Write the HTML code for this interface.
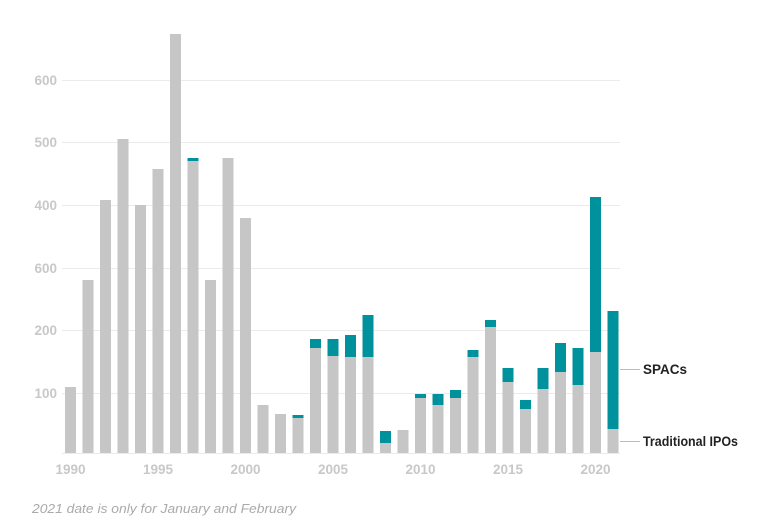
<!DOCTYPE html>
<html><head><meta charset="utf-8"><style>
html,body{margin:0;padding:0;background:#fff;}
svg{display:block;}
</style></head><body>
<svg width="768" height="525" viewBox="0 0 768 525" xmlns="http://www.w3.org/2000/svg" font-family="Liberation Sans, sans-serif">
<g stroke="#ebebeb" stroke-width="1">
<line x1="62" x2="620" y1="80.5" y2="80.5"/>
<line x1="62" x2="620" y1="142.5" y2="142.5"/>
<line x1="62" x2="620" y1="205.5" y2="205.5"/>
<line x1="62" x2="620" y1="268.5" y2="268.5"/>
<line x1="62" x2="620" y1="330.5" y2="330.5"/>
<line x1="62" x2="620" y1="393.5" y2="393.5"/>
<line x1="62" x2="620" y1="453.5" y2="453.5"/>
</g>
<g fill="#c8c8c8" font-size="13.5" font-weight="bold" text-anchor="end">
<text x="57" y="85">600</text>
<text x="57" y="147">500</text>
<text x="57" y="210">400</text>
<text x="57" y="273">600</text>
<text x="57" y="335">200</text>
<text x="57" y="398">100</text>
</g>
<g fill="#c6c6c6">
<rect x="65" y="387" width="11" height="66"/>
<rect x="82.5" y="280" width="11" height="173"/>
<rect x="100" y="200" width="11" height="253"/>
<rect x="117.5" y="139" width="11" height="314"/>
<rect x="135" y="205" width="11" height="248"/>
<rect x="152.5" y="169" width="11" height="284"/>
<rect x="170" y="34" width="11" height="419"/>
<rect x="187.5" y="161" width="11" height="292"/>
<rect x="205" y="280" width="11" height="173"/>
<rect x="222.5" y="158" width="11" height="295"/>
<rect x="240" y="218" width="11" height="235"/>
<rect x="257.5" y="405" width="11" height="48"/>
<rect x="275" y="414" width="11" height="39"/>
<rect x="292.5" y="418" width="11" height="35"/>
<rect x="310" y="348" width="11" height="105"/>
<rect x="327.5" y="356" width="11" height="97"/>
<rect x="345" y="357" width="11" height="96"/>
<rect x="362.5" y="357" width="11" height="96"/>
<rect x="380" y="443" width="11" height="10"/>
<rect x="397.5" y="430" width="11" height="23"/>
<rect x="415" y="398" width="11" height="55"/>
<rect x="432.5" y="405" width="11" height="48"/>
<rect x="450" y="398" width="11" height="55"/>
<rect x="467.5" y="357" width="11" height="96"/>
<rect x="485" y="327" width="11" height="126"/>
<rect x="502.5" y="382" width="11" height="71"/>
<rect x="520" y="409" width="11" height="44"/>
<rect x="537.5" y="389" width="11" height="64"/>
<rect x="555" y="372" width="11" height="81"/>
<rect x="572.5" y="385" width="11" height="68"/>
<rect x="590" y="352" width="11" height="101"/>
<rect x="607.5" y="429" width="11" height="24"/>
</g>
<g fill="#00929c">
<rect x="187.5" y="158" width="11" height="3"/>
<rect x="292.5" y="415" width="11" height="3"/>
<rect x="310" y="339" width="11" height="9"/>
<rect x="327.5" y="339" width="11" height="17"/>
<rect x="345" y="335" width="11" height="22"/>
<rect x="362.5" y="315" width="11" height="42"/>
<rect x="380" y="431" width="11" height="12"/>
<rect x="415" y="394" width="11" height="4"/>
<rect x="432.5" y="394" width="11" height="11"/>
<rect x="450" y="390" width="11" height="8"/>
<rect x="467.5" y="350" width="11" height="7"/>
<rect x="485" y="320" width="11" height="7"/>
<rect x="502.5" y="368" width="11" height="14"/>
<rect x="520" y="400" width="11" height="9"/>
<rect x="537.5" y="368" width="11" height="21"/>
<rect x="555" y="343" width="11" height="29"/>
<rect x="572.5" y="348" width="11" height="37"/>
<rect x="590" y="197" width="11" height="155"/>
<rect x="607.5" y="311" width="11" height="118"/>
</g>
<g fill="#c8c8c8" font-size="13.5" font-weight="bold" text-anchor="middle">
<text x="70.5" y="474">1990</text>
<text x="158" y="474">1995</text>
<text x="245.5" y="474">2000</text>
<text x="333" y="474">2005</text>
<text x="420.5" y="474">2010</text>
<text x="508" y="474">2015</text>
<text x="595.5" y="474">2020</text>
</g>
<g stroke="#bbb" stroke-width="1">
<line x1="620" x2="640" y1="369.5" y2="369.5"/>
<line x1="620" x2="640" y1="441.5" y2="441.5"/>
</g>
<g fill="#222" font-size="13.5" font-weight="bold">
<text x="643" y="374">SPACs</text>
<text x="643" y="446" textLength="95" lengthAdjust="spacingAndGlyphs">Traditional IPOs</text>
</g>
<text x="32" y="513" fill="#aaa" font-size="13" font-style="italic" textLength="264" lengthAdjust="spacingAndGlyphs">2021 date is only for January and February</text>
</svg>
</body></html>
